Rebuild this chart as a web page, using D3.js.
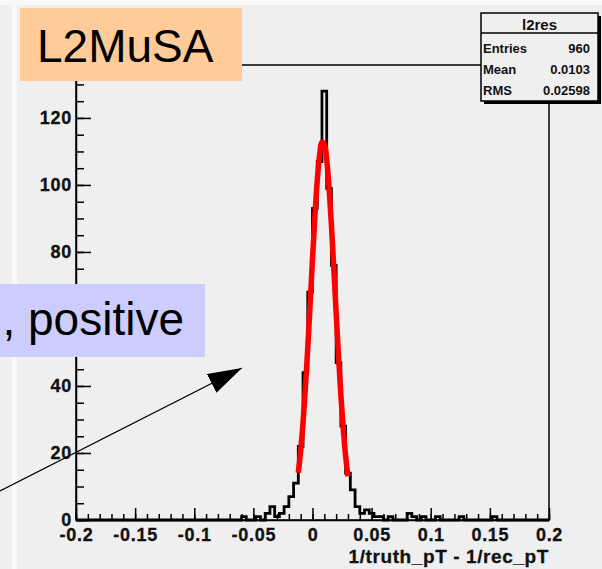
<!DOCTYPE html>
<html lang="en">
<head>
    <meta charset="UTF-8">
    <title>L2MuSA 1/pT resolution</title>
    <!-- Load D3.js library -->
    <script src="https://d3js.org/d3.v7.min.js"></script>
    <style>
        body { margin: 0; background: #efefef; }
        svg { display: block; }
        .axis text {
            font-family: "Liberation Sans", Arial, sans-serif;
            font-weight: bold;
            font-size: 18px;
            letter-spacing: 0.7px;
            fill: #111;
            stroke: #111;
            stroke-width: 0.3px;
        }
        .axis path, .axis line { stroke: #000; }
        .stats text {
            font-family: "Liberation Sans", Arial, sans-serif;
            font-weight: bold;
            font-size: 13px;
            fill: #111;
        }
        .slide-label {
            font-family: "Liberation Sans", Arial, sans-serif;
            font-size: 46px;
            fill: #000;
        }
    </style>
</head>
<body>
    <svg id="chart"></svg>

    <script>
        // histogram binning: 100 bins between -0.2 and 0.2
        var xMin = -0.2, xMax = 0.2, nBins = 100;
        var yMax = 135.8;

        // bin contents (index 0 = first bin at -0.2)
        var binCounts = [
            0, 0, 0, 0, 0, 0, 0, 0, 0, 0,
            0, 0, 0, 0, 0, 0, 0, 0, 0, 0,
            0, 0, 0, 0, 0, 0, 0, 0, 0, 0,
            0, 0, 0, 0, 0, 1, 0, 0, 1, 0,
            2, 4, 1, 2, 4, 7, 11, 22, 44, 68,
            93, 107, 128, 99, 76, 47, 28, 14, 9, 4,
            2, 3, 2, 1, 1, 0, 1, 0, 0, 0,
            2, 1, 0, 1, 0, 0, 1, 0, 0, 0,
            0, 1, 0, 0, 0, 0, 0, 0, 1, 0,
            0, 0, 0, 0, 0, 0, 0, 0, 0, 0
        ];

        var fitX = [-0.012, -0.010, -0.008, -0.006, -0.004, -0.002, 0.000, 0.002, 0.004, 0.006,
                    0.008, 0.010, 0.012, 0.014, 0.016, 0.018, 0.020, 0.022, 0.024, 0.026,
                    0.028, 0.030];
        var fitY = [14.1, 20.7, 29.1, 39.4, 51.4, 64.5, 77.9, 90.5, 101.2, 108.8,
                    112.7, 112.2, 107.6, 99.2, 88.1, 75.2, 61.8, 48.9, 37.2, 27.3,
                    19.2, 13.0];

        // axis ticks
        var xTickValues = [-0.2, -0.15, -0.1, -0.05, 0, 0.05, 0.1, 0.15, 0.2];
        var xTickLabels = ["-0.2", "-0.15", "-0.1", "-0.05", "0", "0.05", "0.1", "0.15", "0.2"];
        var yTickValues = [0, 20, 40, 60, 80, 100, 120];
        var xTitle = "1/truth_pT - 1/rec_pT";

        // stats box
        var statsTitle = "l2res";
        var statsNames = ["Entries", "Mean", "RMS"];
        var statsValues = ["960", "0.0103", "0.02598"];

        var svgWidth = 602, svgHeight = 569;
        var frame = { left: 76, right: 549, top: 65, bottom: 520 };

        var svg = d3.select('#chart')
                    .attr('width', svgWidth)
                    .attr('height', svgHeight);

        // slide background with a lighter border strip
        svg.append('rect').attr('width', svgWidth).attr('height', svgHeight).attr('fill', '#efefef');
        svg.append('rect').attr('x', 12).attr('y', 0).attr('width', 5).attr('height', svgHeight).attr('fill', '#f8f9f8');
        svg.append('rect').attr('x', 0).attr('y', 0).attr('width', svgWidth).attr('height', 5).attr('fill', '#f8f9f8');

        var x = d3.scaleLinear().domain([xMin, xMax]).range([frame.left, frame.right]);
        var y = d3.scaleLinear().domain([0, yMax]).range([frame.bottom, frame.top]);

        // frame
        svg.append('rect')
           .attr('x', frame.left).attr('y', frame.top)
           .attr('width', frame.right - frame.left)
           .attr('height', frame.bottom - frame.top)
           .attr('fill', 'none')
           .attr('stroke', '#000')
           .attr('stroke-width', 1.5);

        // histogram outline as steps
        var binWidth = (xMax - xMin) / nBins;
        var histPoints = [[xMin, 0]];
        binCounts.forEach(function (c, i) {
            histPoints.push([xMin + i * binWidth, c]);
            histPoints.push([xMin + (i + 1) * binWidth, c]);
        });
        histPoints.push([xMax, 0]);

        var histLine = d3.line()
                         .x(d => x(d[0]))
                         .y(d => y(d[1]));

        svg.append('path')
           .datum(histPoints)
           .attr('d', histLine)
           .attr('fill', 'none')
           .attr('stroke', '#000')
           .attr('stroke-width', 2.8);

        // fit curve
        var fitLine = d3.line()
                        .x(d => x(d[0]))
                        .y(d => y(d[1]))
                        .curve(d3.curveCatmullRom);

        svg.append('path')
           .datum(fitX.map((v, i) => [v, fitY[i]]))
           .attr('d', fitLine)
           .attr('fill', 'none')
           .attr('stroke', '#ff0000')
           .attr('stroke-width', 5.5);

        // x axis: major ticks with labels, minor ticks every 0.01
        var xAxis = svg.append('g')
           .attr('class', 'axis')
           .attr('transform', 'translate(0,' + frame.bottom + ')')
           .call(d3.axisBottom(x)
                   .tickValues(xTickValues)
                   .tickFormat((d, i) => xTickLabels[i])
                   .tickSizeInner(-12)
                   .tickSizeOuter(0)
                   .tickPadding(8));
        xAxis.selectAll('line').attr('stroke-width', 1.5);
        xAxis.select('.domain').attr('stroke-width', 1.5);

        svg.append('g')
           .attr('class', 'axis')
           .attr('transform', 'translate(0,' + frame.bottom + ')')
           .call(d3.axisBottom(x)
                   .tickValues(d3.range(-20, 21).map(k => k / 100))
                   .tickFormat('')
                   .tickSizeInner(-6)
                   .tickSizeOuter(0))
           .call(g => g.select('.domain').remove())
           .selectAll('line').attr('stroke-width', 1.5);

        // y axis: major every 20, minor every 5
        var yAxis = svg.append('g')
           .attr('class', 'axis')
           .attr('transform', 'translate(' + frame.left + ',0)')
           .call(d3.axisLeft(y)
                   .tickValues(yTickValues)
                   .tickSizeInner(-15)
                   .tickSizeOuter(0)
                   .tickPadding(4));
        yAxis.selectAll('line').attr('stroke-width', 1.5);
        yAxis.select('.domain').attr('stroke-width', 1.5);

        svg.append('g')
           .attr('class', 'axis')
           .attr('transform', 'translate(' + frame.left + ',0)')
           .call(d3.axisLeft(y)
                   .tickValues(d3.range(0, 136, 5))
                   .tickFormat('')
                   .tickSizeInner(-8)
                   .tickSizeOuter(0))
           .call(g => g.select('.domain').remove())
           .selectAll('line').attr('stroke-width', 1.5);

        // x axis title, right aligned
        svg.append('text')
           .attr('x', frame.right)
           .attr('y', 563)
           .attr('text-anchor', 'end')
           .style('font-family', '"Liberation Sans", Arial, sans-serif')
           .style('font-weight', 'bold')
           .style('font-size', '19px')
           .style('letter-spacing', '0.6px')
           .style('fill', '#111')
           .style('stroke', '#111')
           .style('stroke-width', '0.3px')
           .text(xTitle);

        // stats box
        var stats = svg.append('g').attr('class', 'stats');
        stats.append('rect').attr('x', 484).attr('y', 16).attr('width', 117).attr('height', 88).attr('fill', '#000');
        stats.append('rect').attr('x', 481).attr('y', 13).attr('width', 117).attr('height', 88)
             .attr('fill', '#efefef').attr('stroke', '#000').attr('stroke-width', 1.5);
        stats.append('line').attr('x1', 481).attr('x2', 598).attr('y1', 33).attr('y2', 33)
             .attr('stroke', '#000').attr('stroke-width', 1.5);
        stats.append('text').attr('x', 539.5).attr('y', 29.5).attr('text-anchor', 'middle')
             .style('font-size', '15px').text(statsTitle);
        statsNames.forEach(function (name, i) {
            stats.append('text').attr('x', 483).attr('y', 53 + i * 21).text(name);
            stats.append('text').attr('x', 590).attr('y', 53 + i * 21)
                 .attr('text-anchor', 'end').text(statsValues[i]);
        });

        // slide annotations
        svg.append('rect').attr('x', 20).attr('y', 8).attr('width', 222).attr('height', 73).attr('fill', '#ffcc99');
        svg.append('text').attr('class', 'slide-label').attr('x', 37).attr('y', 61.5).text('L2MuSA');

        svg.append('rect').attr('x', -10).attr('y', 284).attr('width', 215).attr('height', 73).attr('fill', '#ccccff');
        svg.append('text').attr('class', 'slide-label').attr('x', 184).attr('y', 335)
           .attr('text-anchor', 'end').text(', positive');

        // arrow pointing to the peak
        svg.append('defs').append('marker')
           .attr('id', 'head')
           .attr('viewBox', '0 0 34 21')
           .attr('refX', 34).attr('refY', 10.5)
           .attr('markerWidth', 34).attr('markerHeight', 21)
           .attr('markerUnits', 'userSpaceOnUse')
           .attr('orient', 'auto')
           .append('path').attr('d', 'M0,0 L34,10.5 L0,21 Z').attr('fill', '#000');

        svg.append('line')
           .attr('x1', 0).attr('y1', 491)
           .attr('x2', 242).attr('y2', 368)
           .attr('stroke', '#000')
           .attr('stroke-width', 1.3)
           .attr('marker-end', 'url(#head)');
    </script>
</body>
</html>
